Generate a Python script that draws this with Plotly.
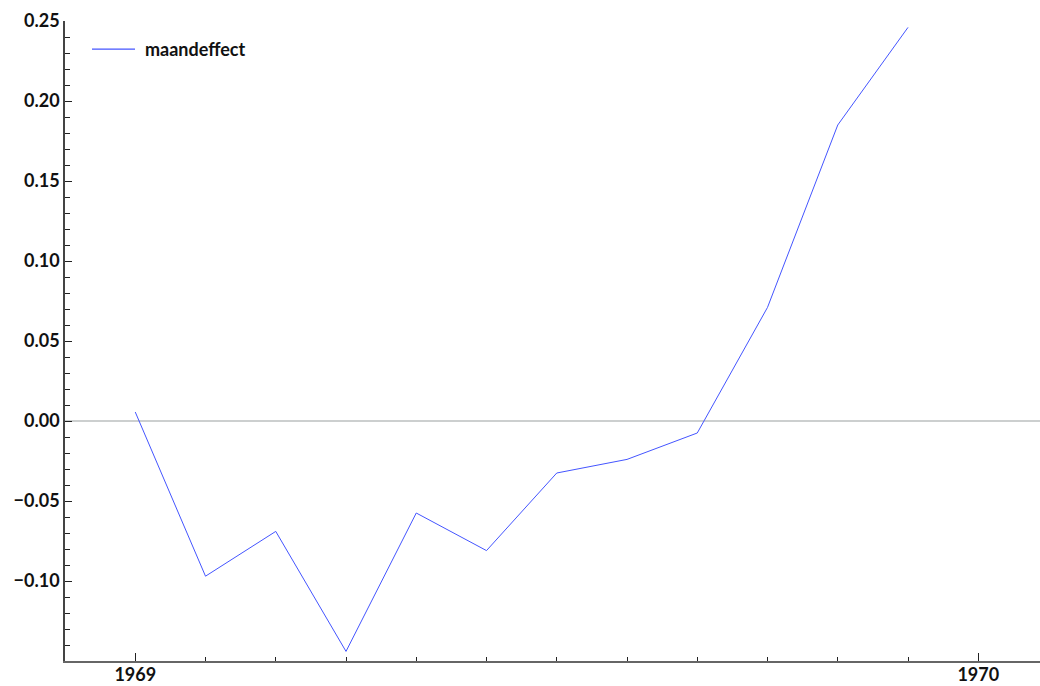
import plotly.graph_objects as go

# Monthly effect, January through December 1969
months = [1969 + i / 12 for i in range(12)]
maandeffect = [0.0056, -0.097, -0.069, -0.144, -0.0575, -0.081,
               -0.0325, -0.024, -0.0075, 0.071, 0.185, 0.246]
series_name = "maandeffect"

y_ticks = [-0.10, -0.05, 0.00, 0.05, 0.10, 0.15, 0.20, 0.25]
y_labels = ["\u22120.10", "\u22120.05", "0.00", "0.05", "0.10", "0.15", "0.20", "0.25"]
x_ticks = [1969, 1970]
x_labels = ["1969", "1970"]
month_ticks = [1969 + i / 12 for i in range(1, 12)]

line_color = "#4455ff"
tick_font = dict(family="Lato", size=18, color="#111111", weight="bold")

fig = go.Figure()
fig.add_trace(go.Scatter(
    x=months, y=maandeffect, mode="lines", name=series_name,
    line=dict(color=line_color, width=1), showlegend=False,
))

fig.update_layout(
    width=1040, height=686,
    margin=dict(l=65, r=0, t=21, b=25, autoexpand=False),
    plot_bgcolor="white", paper_bgcolor="white",
    font=tick_font,
    showlegend=False,
    shapes=[
        # zero reference line
        dict(type="line", xref="paper", x0=0, x1=1, yref="y", y0=0, y1=0,
             line=dict(color="#9aa0a0", width=1.2), layer="below"),
        # legend key
        dict(type="line", xref="paper", x0=0.0277, x1=0.0718, yref="paper", y0=0.956, y1=0.956,
             line=dict(color=line_color, width=1.2)),
    ],
    annotations=[
        dict(text=series_name, xref="paper", yref="paper", x=0.08, y=0.956,
             xanchor="left", yanchor="middle", showarrow=False, font=tick_font),
    ],
)

fig.update_xaxes(
    range=[1969 - 1 / 12, 1969 - 1 / 12 + 975 / 843],
    tickvals=x_ticks, ticktext=x_labels,
    ticks="inside", ticklen=8, tickwidth=1, tickcolor="#222",
    minor=dict(tickmode="array", tickvals=month_ticks, ticks="inside", ticklen=4,
               tickcolor="#222", showgrid=False),
    showline=True, linecolor="#666", linewidth=1.5,
    showgrid=False, zeroline=False, automargin=False,
    tickfont=tick_font, ticklabelstandoff=-3,
)
fig.update_yaxes(
    range=[-0.15, 0.25],
    tickvals=y_ticks, ticktext=y_labels,
    ticks="inside", ticklen=7, tickwidth=1, tickcolor="#222",
    minor=dict(dtick=0.01, tick0=0, ticks="inside", ticklen=5, tickcolor="#222", showgrid=False),
    showline=True, linecolor="#444", linewidth=1.5,
    showgrid=False, zeroline=False, automargin=False,
    tickfont=tick_font,
)

fig.write_html("out.html")
